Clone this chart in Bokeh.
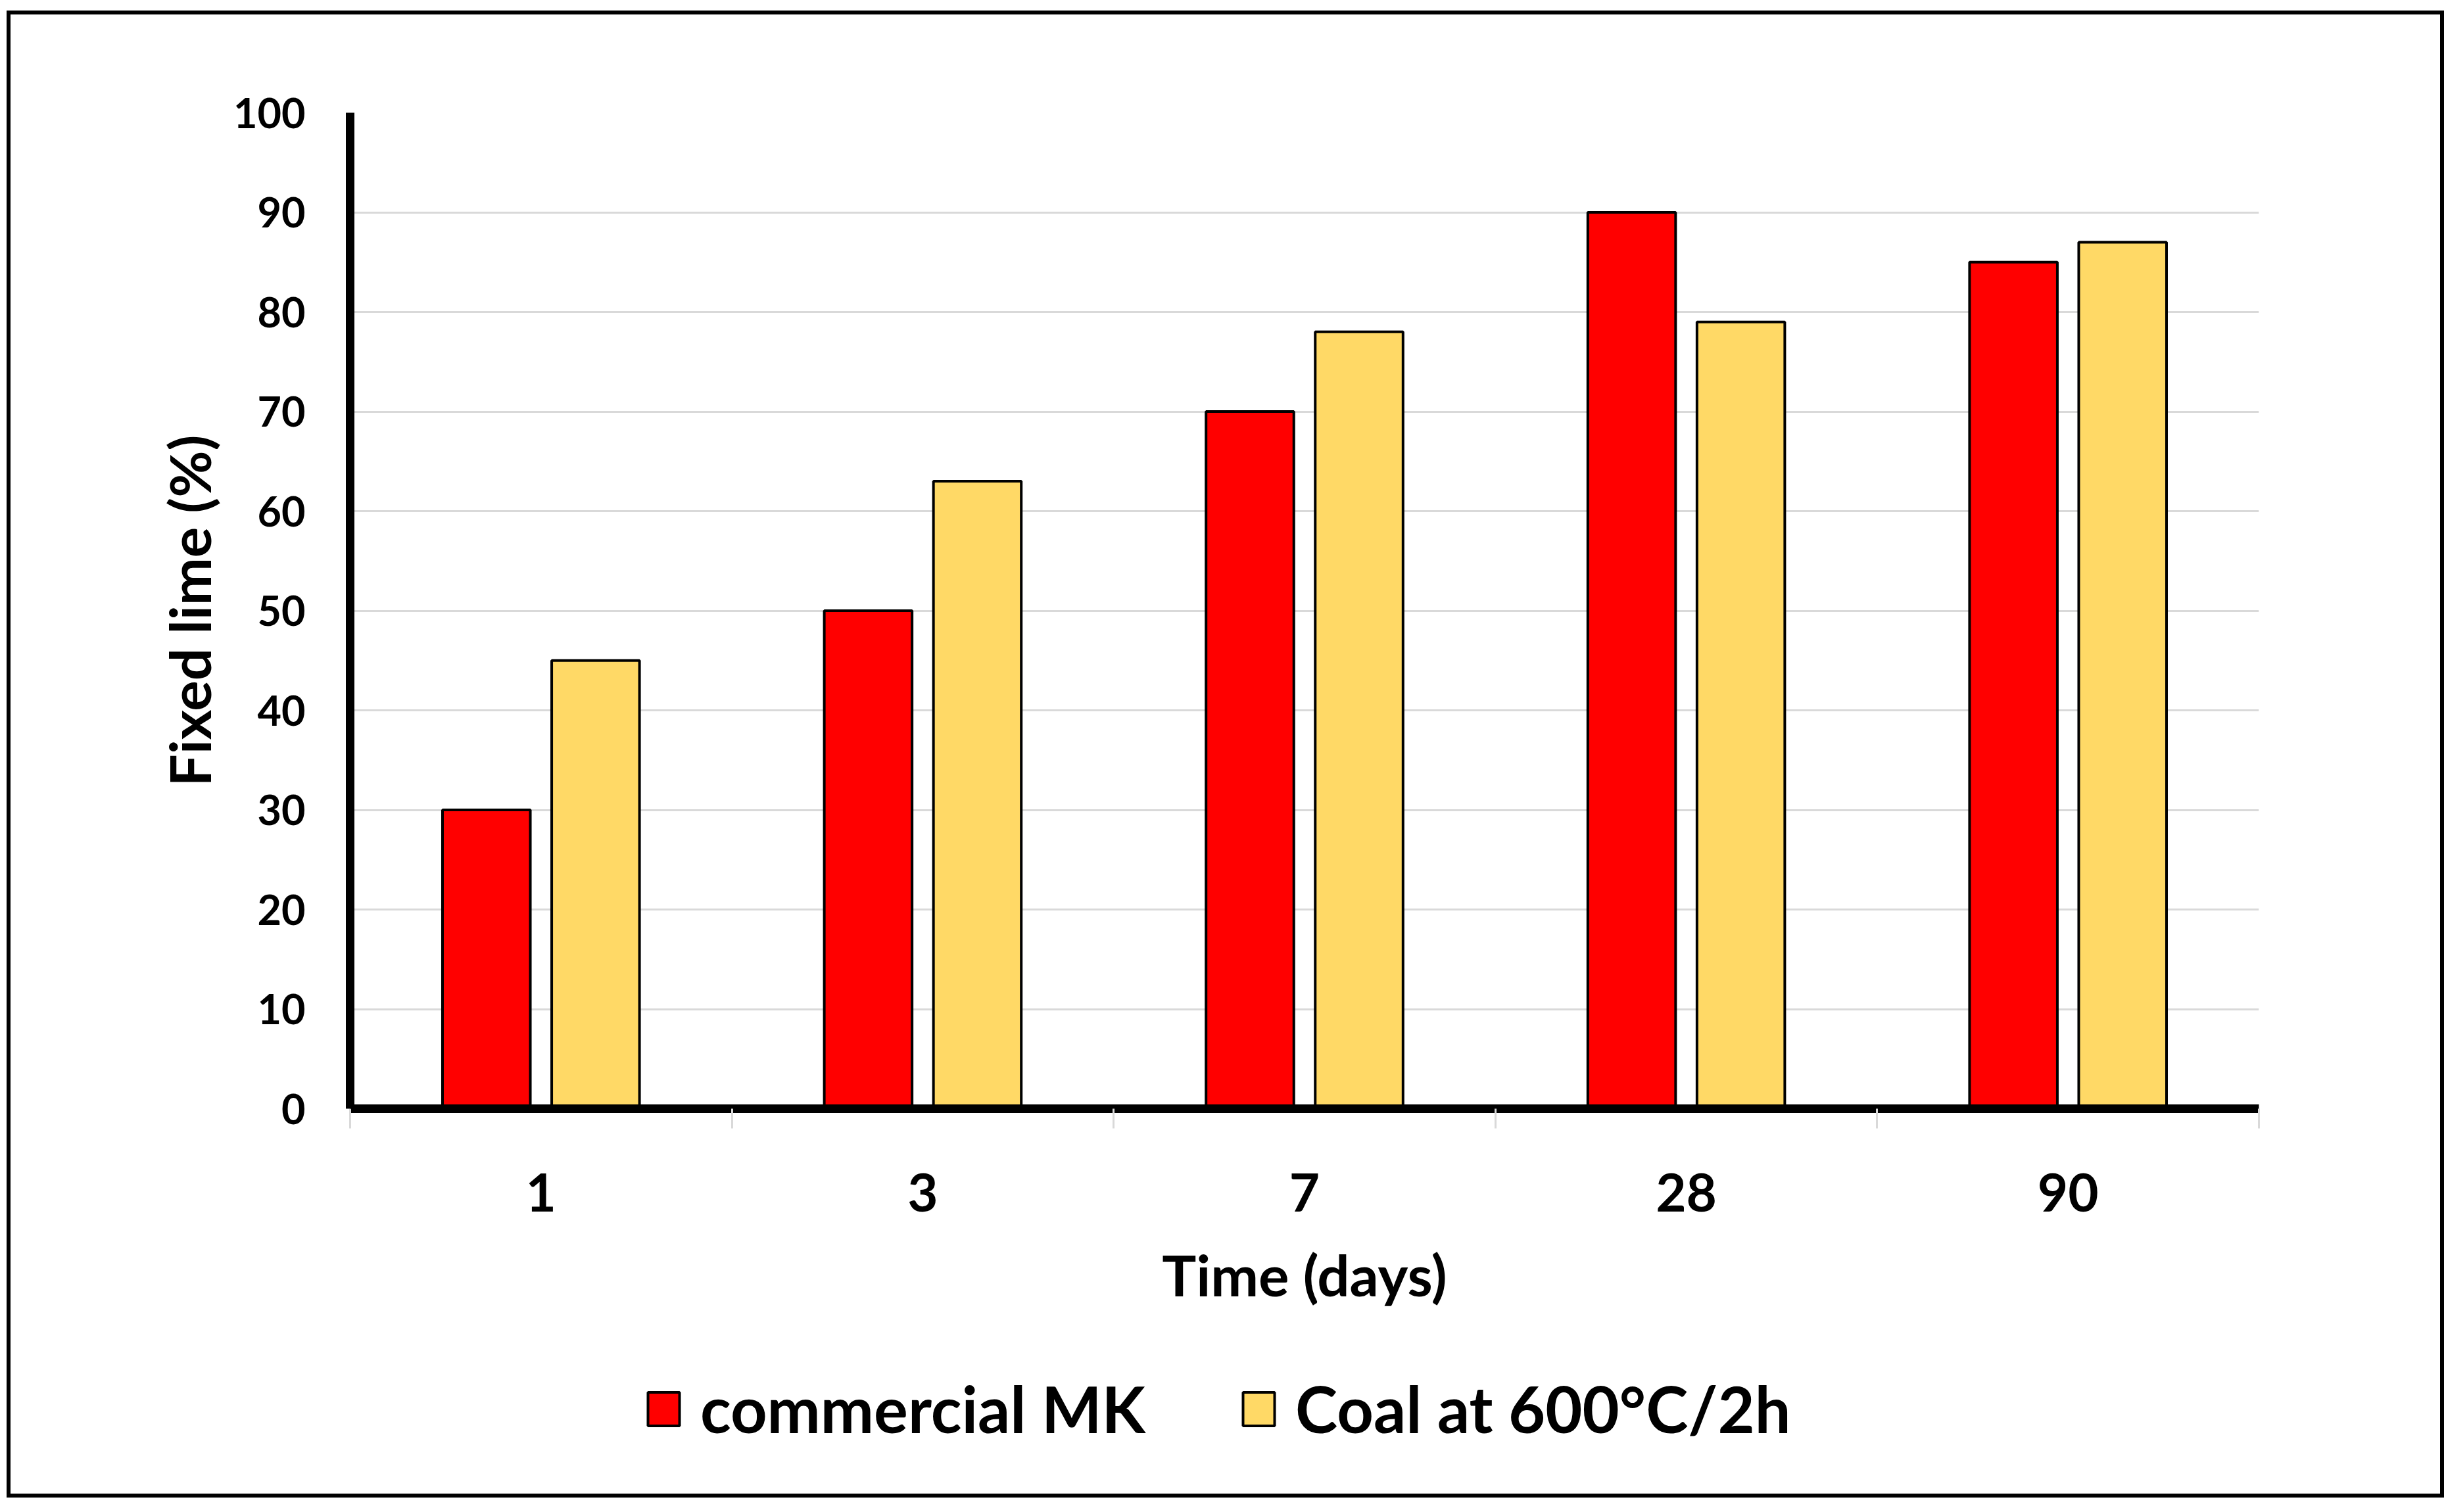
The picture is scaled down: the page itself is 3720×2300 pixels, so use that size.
from bokeh.plotting import figure
from bokeh.models import ColumnDataSource, FixedTicker, Legend, LegendItem, Range1d
from bokeh.layouts import column
from bokeh.transform import dodge
from bokeh.embed import file_html
from bokeh.resources import INLINE

# ---- data ----
days = ["1", "3", "7", "28", "90"]
commercial_mk = [30, 50, 70, 90, 85]
coal_600 = [45, 63, 78, 79, 87]
y_ticks = list(range(0, 101, 10))
series_names = ["commercial MK", "Coal at 600°C/2h"]
series_colors = ["#FF0000", "#FFD966"]

centers = [i + 0.5 for i in range(len(days))]
boundaries = list(range(len(days) + 1))
src = ColumnDataSource(dict(x=centers, mk=commercial_mk, coal=coal_600))

FONT = "Lato"
W = 3695

# ---------------- main chart ----------------
p = figure(width=W, height=2016,
           x_range=Range1d(0, len(days)), y_range=Range1d(0, 100),
           output_backend="svg", toolbar_location=None,
           min_border_left=516, min_border_right=276,
           min_border_top=149, min_border_bottom=352)
p.outline_line_color = None
p.background_fill_color = "white"
p.border_fill_color = "white"

r1 = p.vbar(x=dodge("x", -0.143, range=p.x_range), top="mk", bottom=0, width=0.23,
            source=src, fill_color=series_colors[0], line_color="black", line_width=4)
r2 = p.vbar(x=dodge("x", 0.143, range=p.x_range), top="coal", bottom=0, width=0.23,
            source=src, fill_color=series_colors[1], line_color="black", line_width=4)

p.xgrid.grid_line_color = None
p.ygrid.grid_line_color = "#D9D9D9"
p.ygrid.grid_line_width = 3
p.ygrid.ticker = FixedTicker(ticks=y_ticks)

xa = p.xaxis[0]
xa.ticker = FixedTicker(ticks=centers, minor_ticks=boundaries)
xa.major_label_overrides = {c: d for c, d in zip(centers, days)}
xa.major_tick_line_color = None
xa.minor_tick_line_color = "#D9D9D9"
xa.minor_tick_line_width = 3
xa.minor_tick_in = 0
xa.minor_tick_out = 30
xa.axis_line_color = "black"
xa.axis_line_width = 13
xa.major_label_text_font = FONT
xa.major_label_text_font_style = "bold"
xa.major_label_text_font_size = "80px"
xa.major_label_text_color = "black"
xa.major_label_standoff = 68
xa.axis_label = "Time (days)"
xa.axis_label_text_font = FONT
xa.axis_label_text_font_style = "bold"
xa.axis_label_text_font_size = "87px"
xa.axis_label_text_color = "black"
xa.axis_label_standoff = 40

ya = p.yaxis[0]
ya.ticker = FixedTicker(ticks=y_ticks)
ya.major_tick_line_color = None
ya.minor_tick_line_color = None
ya.axis_line_color = "black"
ya.axis_line_width = 13
ya.major_label_text_font = FONT
ya.major_label_text_font_style = "bold"
ya.major_label_text_font_size = "63px"
ya.major_label_text_color = "black"
ya.major_label_standoff = 62
ya.axis_label = "Fixed lime (%)"
ya.axis_label_text_font = FONT
ya.axis_label_text_font_style = "bold"
ya.axis_label_text_font_size = "87px"
ya.axis_label_text_color = "black"
ya.axis_label_standoff = 12

# ---------------- legend strip ----------------
pl = figure(width=W, height=234, x_range=Range1d(0, 1), y_range=Range1d(0, 1),
            output_backend="svg", toolbar_location=None,
            x_axis_type=None, y_axis_type=None,
            min_border_left=0, min_border_right=0, min_border_top=0, min_border_bottom=0)
pl.outline_line_color = None
pl.xgrid.grid_line_color = None
pl.ygrid.grid_line_color = None
pl.background_fill_color = "white"
pl.border_fill_color = "white"
# legend keys: same series, hidden renderers (only their legend swatches show)
k1 = pl.vbar(x="x", top="mk", bottom=0, width=0.23, source=src,
             fill_color=series_colors[0], line_color="black", line_width=4, visible=False)
k2 = pl.vbar(x="x", top="coal", bottom=0, width=0.23, source=src,
             fill_color=series_colors[1], line_color="black", line_width=4, visible=False)

legend = Legend(items=[LegendItem(label=series_names[0], renderers=[k1]),
                       LegendItem(label=series_names[1], renderers=[k2])],
                orientation="horizontal", location=(447, 71),
                glyph_width=60, glyph_height=64, label_standoff=26, spacing=142,
                padding=0, margin=0, border_line_color=None, background_fill_alpha=0,
                inactive_fill_alpha=0,
                label_text_font=FONT, label_text_font_style="bold",
                label_text_font_size="97px", label_text_color="black")
pl.add_layout(legend, "center")

layout = column(p, pl, spacing=0, margin=(16, 0, 0, 10),
                styles={"border": "6px solid black"})

open("out.html", "w").write(file_html(layout, INLINE))
